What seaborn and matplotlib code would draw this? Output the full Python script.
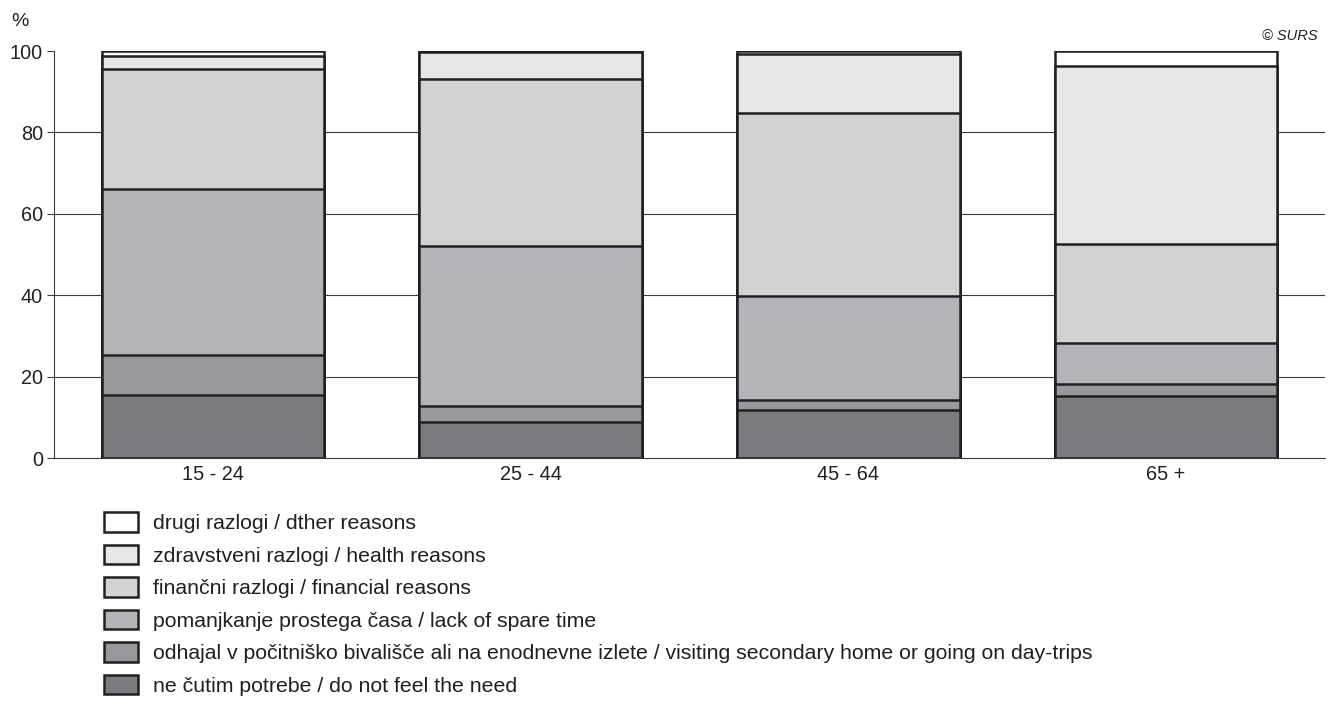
import matplotlib
matplotlib.use("Agg")
import matplotlib.pyplot as plt
import seaborn as sns
import numpy as np
import pandas as pd
from matplotlib.patches import Patch

sns.set_theme(style="white")
plt.rcParams['font.family'] = ['Liberation Sans', 'DejaVu Sans']

ages = ["15 - 24", "25 - 44", "45 - 64", "65 +"]
need = [15.6, 8.8, 11.9, 15.3]
travel = [9.8, 4.0, 2.4, 2.8]
spare_time = [40.8, 39.3, 25.5, 10.1]
financial = [29.5, 41.0, 45.0, 24.4]
health = [3.0, 6.6, 14.4, 43.6]
other = [1.3, 0.3, 0.8, 3.8]

series = [need, travel, spare_time, financial, health, other]
labels = [
    "ne čutim potrebe / do not feel the need",
    "odhajal v počitniško bivališče ali na enodnevne izlete / visiting secondary home or going on day-trips",
    "pomanjkanje prostega časa / lack of spare time",
    "finančni razlogi / financial reasons",
    "zdravstveni razlogi / health reasons",
    "drugi razlogi / dther reasons",
]
colors = ["#7a7b7f", "#97989c", "#b3b4b8", "#d1d2d4", "#e6e7e8", "#ffffff"]
edge = "#231f20"

cum = np.cumsum(np.array(series), axis=0)

fig = plt.figure(figsize=(13.35, 7.26), dpi=100)
ax = fig.add_axes([54/1335, 1-458/726, (1325-54)/1335, (458-51)/726])

for y in [20, 40, 60, 80]:
    ax.axhline(y, color="#3a3a3a", lw=0.8, zorder=0)

# draw cumulative totals from the top layer down
for i in range(len(series)-1, -1, -1):
    df = pd.DataFrame({"age": ages, "value": cum[i]})
    sns.barplot(data=df, x="age", y="value", color=colors[i], saturation=1,
                edgecolor=edge, linewidth=1.8, width=0.7, ax=ax, zorder=2)

ax.set_xlim(-0.5, 3.5)
ax.set_ylim(0, 100)
ax.set_yticks([0, 20, 40, 60, 80, 100])
ax.set_xlabel("")
ax.set_ylabel("")
for s in ["top", "right"]:
    ax.spines[s].set_visible(False)
for s in ["left", "bottom"]:
    ax.spines[s].set_color("#3a3a3a")
    ax.spines[s].set_linewidth(0.8)
ax.tick_params(axis="y", direction="out", length=5, width=0.8, color="#3a3a3a",
               labelsize=14.3, pad=3, left=True)
ax.tick_params(axis="x", length=0, labelsize=14.3, pad=5)
for t in ax.get_yticklabels() + ax.get_xticklabels():
    t.set_color("#231f20")

fig.text(20/1335, 1-21/726, "%", fontsize=14, ha="center", va="center", color="#231f20")
fig.text(1318/1335, 1-36/726, "© SURS", fontsize=10.5, style="italic", ha="right",
         va="center", color="#231f20")

handles = [Patch(facecolor=colors[i], edgecolor=edge, linewidth=1.8) for i in range(5, -1, -1)]
leg_labels = [labels[i] for i in range(5, -1, -1)]
fig.legend(handles, leg_labels, loc="upper left",
           bbox_to_anchor=(104/1335, 1-512/726), frameon=False, fontsize=15.3,
           handlelength=1.6, handleheight=1.04, labelspacing=0.54, handletextpad=0.7,
           borderpad=0, borderaxespad=0, labelcolor="#231f20")

fig.savefig("out.png", dpi=100)
